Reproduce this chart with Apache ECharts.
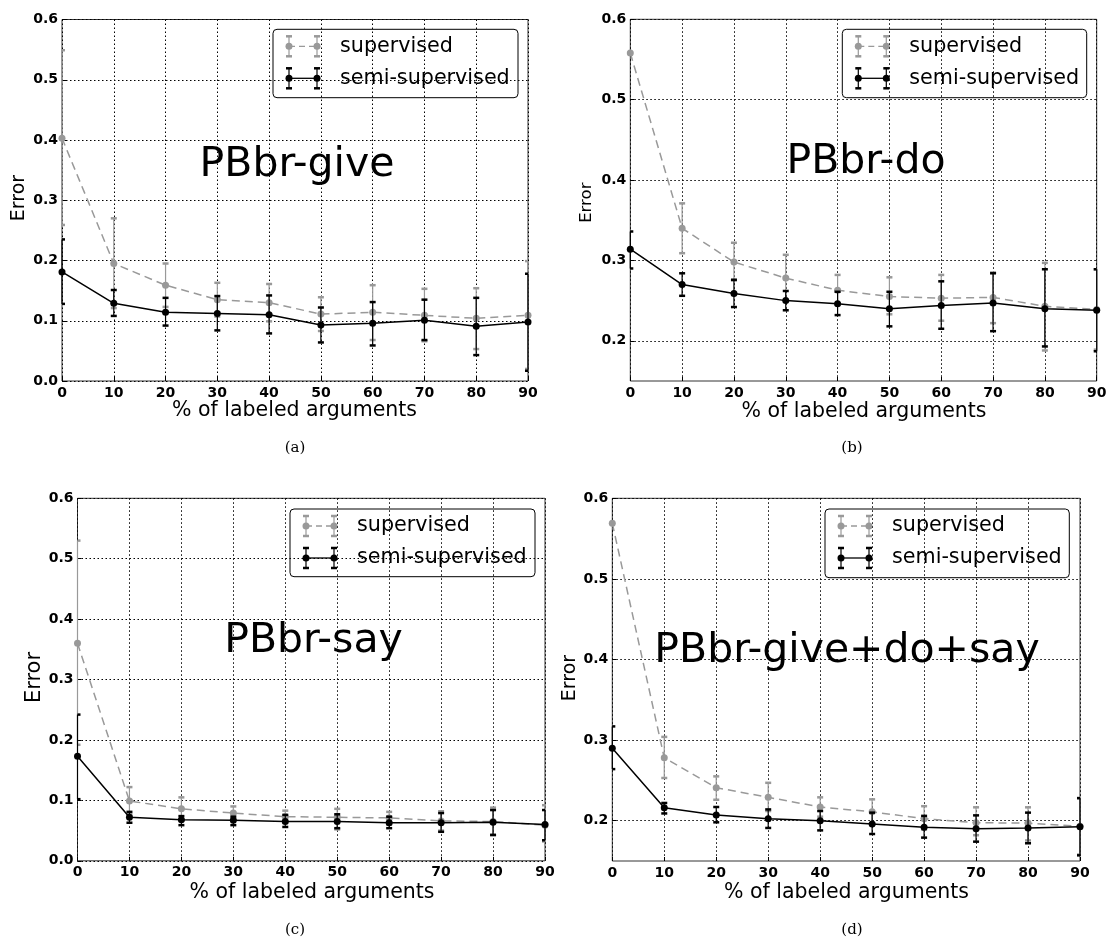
<!DOCTYPE html>
<html><head><meta charset="utf-8">
<script src="https://cdn.jsdelivr.net/npm/echarts@6/dist/echarts.min.js"></script>
<style>html,body{margin:0;padding:0;background:#fff}#c{width:1112px;height:939px}</style>
</head><body><div id="c"></div>
<script>
// ---------- data ----------
const xValues = [0, 10, 20, 30, 40, 50, 60, 70, 80, 90];
const seriesNames = ['supervised', 'semi-supervised'];
const panelTitles = ['PBbr-give', 'PBbr-do', 'PBbr-say', 'PBbr-give+do+say'];
const panelCaptions = ['(a)', '(b)', '(c)', '(d)'];
const xAxisTitle = '% of labeled arguments';
const yAxisTitle = 'Error';
const yTicksFull = [0, 0.1, 0.2, 0.3, 0.4, 0.5, 0.6];
const yTicksHigh = [0.2, 0.3, 0.4, 0.5, 0.6];

// (a) PBbr-give
const supA    = [0.403, 0.195, 0.159, 0.135, 0.130, 0.111, 0.114, 0.109, 0.104, 0.109];
const supALo  = [0.259, 0.121, 0.123, 0.107, 0.099, 0.083, 0.068, 0.066, 0.053, 0.020];
const supAHi  = [0.549, 0.270, 0.195, 0.163, 0.161, 0.139, 0.159, 0.153, 0.154, 0.199];
const semiA   = [0.181, 0.129, 0.114, 0.112, 0.110, 0.093, 0.096, 0.101, 0.091, 0.098];
const semiALo = [0.128, 0.108, 0.092, 0.084, 0.079, 0.064, 0.059, 0.068, 0.043, 0.017];
const semiAHi = [0.235, 0.151, 0.138, 0.141, 0.142, 0.122, 0.131, 0.135, 0.138, 0.178];

// (b) PBbr-do
const supB    = [0.558, 0.340, 0.298, 0.278, 0.263, 0.255, 0.253, 0.254, 0.243, 0.239];
const supBLo  = [null, 0.309, 0.275, 0.249, 0.245, 0.233, 0.225, 0.222, 0.188, 0.189];
const supBHi  = [null, 0.371, 0.322, 0.307, 0.282, 0.279, 0.282, 0.285, 0.297, 0.289];
const semiB   = [0.314, 0.270, 0.259, 0.250, 0.246, 0.240, 0.244, 0.247, 0.240, 0.238];
const semiBLo = [0.290, 0.256, 0.242, 0.238, 0.232, 0.218, 0.215, 0.212, 0.193, 0.187];
const semiBHi = [0.336, 0.284, 0.276, 0.262, 0.261, 0.261, 0.274, 0.284, 0.289, 0.289];

// (c) PBbr-say
const supC    = [0.360, 0.099, 0.086, 0.079, 0.073, 0.072, 0.071, 0.066, 0.065, 0.059];
const supCLo  = [0.192, 0.077, 0.067, 0.068, 0.063, 0.052, 0.060, 0.050, 0.042, 0.032];
const supCHi  = [0.530, 0.122, 0.105, 0.090, 0.083, 0.086, 0.081, 0.082, 0.088, 0.092];
const semiC   = [0.173, 0.072, 0.068, 0.067, 0.065, 0.065, 0.063, 0.063, 0.064, 0.060];
const semiCLo = [0.102, 0.063, 0.059, 0.059, 0.056, 0.054, 0.054, 0.048, 0.043, 0.034];
const semiCHi = [0.242, 0.081, 0.074, 0.073, 0.076, 0.077, 0.073, 0.079, 0.084, 0.084];

// (d) PBbr-give+do+say
const supD    = [0.569, 0.278, 0.241, 0.229, 0.217, 0.211, 0.2025, 0.1975, 0.197, 0.193];
const supDLo  = [null, 0.253, 0.226, 0.212, 0.205, 0.195, 0.189, 0.182, 0.1755, 0.158];
const supDHi  = [null, 0.304, 0.255, 0.247, 0.229, 0.2265, 0.218, 0.2166, 0.2166, 0.228];
const semiD   = [0.290, 0.216, 0.207, 0.2025, 0.200, 0.196, 0.192, 0.190, 0.191, 0.1925];
const semiDLo = [0.264, 0.209, 0.198, 0.191, 0.188, 0.1835, 0.179, 0.174, 0.172, 0.157];
const semiDHi = [0.317, 0.222, 0.217, 0.214, 0.212, 0.210, 0.206, 0.2066, 0.210, 0.228];

// ---------- layout / styles ----------
const GREY = '#999999';
const BLACK = '#000000';
const FONT = 'DejaVu Sans';

const panels = [
  { grid:{left:62, top:19.5, width:466, height:361.5}, yMin:0, yMax:0.6, ticks:yTicksFull,
    sup:[supA, supALo, supAHi], semi:[semiA, semiALo, semiAHi],
    titlePos:[297, 165], ylab:[19, 198, 19], xlab:[294.5, 411], cap:[295, 448], leg:[273, 29.3, 245, 68.4] },
  { grid:{left:630.3, top:19.3, width:466.4, height:361.7}, yMin:0.15, yMax:0.6, ticks:yTicksHigh,
    sup:[supB, supBLo, supBHi], semi:[semiB, semiBLo, semiBHi],
    titlePos:[866, 162.5], ylab:[586.7, 202.7, 16.5], xlab:[864, 412], cap:[852, 448], leg:[842.3, 29.3, 244.4, 68.4] },
  { grid:{left:77.5, top:498.3, width:467.5, height:362.5}, yMin:0, yMax:0.6, ticks:yTicksFull,
    sup:[supC, supCLo, supCHi], semi:[semiC, semiCLo, semiCHi],
    titlePos:[313.5, 641], ylab:[35, 677.5, 21], xlab:[312, 893], cap:[295, 930], leg:[290, 509, 245, 67.7] },
  { grid:{left:612.3, top:498.3, width:467.7, height:362.7}, yMin:0.15, yMax:0.6, ticks:yTicksHigh,
    sup:[supD, supDLo, supDHi], semi:[semiD, semiDLo, semiDHi],
    titlePos:[847, 651], ylab:[570, 678, 19], xlab:[846.5, 893], cap:[852, 930], leg:[825, 509, 244.3, 68.7] }
];

function errRender(color) {
  return function (params, api) {
    const lo = api.value(2), hi = api.value(3);
    if (lo == null || hi == null || isNaN(lo) || isNaN(hi)) return null;
    const x = api.value(0);
    const cs = params.coordSys;
    const top = api.coord([x, hi]), bot = api.coord([x, lo]);
    const y0 = cs.y, y1 = cs.y + cs.height, x0 = cs.x, x1 = cs.x + cs.width;
    const children = [];
    const yt = Math.max(top[1], y0), yb = Math.min(bot[1], y1);
    if (yb > yt) children.push({type:'line', shape:{x1:top[0], y1:yt, x2:top[0], y2:yb}, style:{stroke:color, lineWidth:1.2}});
    const hw = 3;
    [top[1], bot[1]].forEach(function (cy) {
      if (cy >= y0 - 0.5 && cy <= y1 + 0.5) {
        children.push({type:'line', shape:{x1:Math.max(top[0]-hw, x0), y1:cy, x2:Math.min(top[0]+hw, x1), y2:cy},
          style:{stroke:color, lineWidth:2.5}});
      }
    });
    return {type:'group', children:children};
  };
}

const grids = [], xAxes = [], yAxes = [], series = [], graphics = [];

panels.forEach(function (p, i) {
  grids.push(Object.assign({show:true, borderColor:'#333', borderWidth:1, backgroundColor:'#fff', containLabel:false}, p.grid));
  xAxes.push({type:'value', gridIndex:i, min:0, max:90, interval:10,
    axisLine:{show:false}, axisTick:{show:true, inside:true, length:4, lineStyle:{color:'#000'}},
    axisLabel:{color:'#000', fontFamily:FONT, fontSize:14, fontWeight:'bold', margin:5},
    splitLine:{show:true, lineStyle:{color:'#000', width:1, type:[1.5, 2.5]}}});
  const yAx = {type:'value', gridIndex:i, min:p.yMin, max:p.yMax,
    axisLine:{show:false}, axisTick:{show:true, inside:true, length:4, lineStyle:{color:'#000'}},
    axisLabel:{color:'#000', fontFamily:FONT, fontSize:14, fontWeight:'bold', margin:4,
      formatter:function (v) { return (+v).toFixed(1); }},
    splitLine:{show:true, lineStyle:{color:'#000', width:1, type:[1.5, 2.5]}}};
  if (p.yMin === 0) { yAx.interval = 0.1; }
  else { yAx.axisLabel.customValues = p.ticks; yAx.axisTick.customValues = p.ticks; }
  yAxes.push(yAx);

  const defs = [[p.sup, GREY, 'dashed'], [p.semi, BLACK, 'solid']];
  defs.forEach(function (d, k) {
    const m = d[0][0], lo = d[0][1], hi = d[0][2], col = d[1];
    series.push({type:'custom', name:seriesNames[k], xAxisIndex:i, yAxisIndex:i, z:3+k*2,
      renderItem:errRender(col), silent:true,
      encode:{x:0, y:1},
      data:xValues.map(function (x, j) { return [x, m[j], lo[j] == null ? '-' : lo[j], hi[j] == null ? '-' : hi[j]]; })});
    series.push({type:'line', name:seriesNames[k], xAxisIndex:i, yAxisIndex:i, z:4+k*2,
      symbol:'circle', symbolSize:7, showSymbol:true, animation:false, silent:true,
      itemStyle:{color:col, borderWidth:0},
      lineStyle:{color:col, width:1.5, type: d[2] === 'dashed' ? [8, 5] : 'solid'},
      data:xValues.map(function (x, j) { return [x, m[j]]; })});
  });

  // panel title
  graphics.push({type:'text', x:p.titlePos[0], y:p.titlePos[1], z:10,
    style:{text:panelTitles[i], fontFamily:FONT, fontSize:41, fill:'#000', align:'center', verticalAlign:'middle', textAlign:'center', textVerticalAlign:'middle'}});
  // axis titles
  graphics.push({type:'text', x:p.ylab[0], y:p.ylab[1], rotation:Math.PI/2, z:10,
    style:{text:yAxisTitle, fontFamily:FONT, fontSize:p.ylab[2], fill:'#000', align:'center', verticalAlign:'middle', textAlign:'center', textVerticalAlign:'middle'}});
  graphics.push({type:'text', x:p.xlab[0], y:p.xlab[1], z:10,
    style:{text:xAxisTitle, fontFamily:FONT, fontSize:20.5, fill:'#000', align:'center', verticalAlign:'middle', textAlign:'center', textVerticalAlign:'middle'}});
  graphics.push({type:'text', x:p.cap[0], y:p.cap[1], z:10,
    style:{text:panelCaptions[i], fontFamily:'DejaVu Serif', fontSize:15, fill:'#000', align:'center', verticalAlign:'middle', textAlign:'center', textVerticalAlign:'middle'}});

  // legend box
  const L = p.leg;
  const kids = [{type:'rect', shape:{x:0, y:0, width:L[2], height:L[3], r:4}, style:{fill:'#fff', stroke:'#000', lineWidth:1}}];
  [[GREY, 17, [6, 4], seriesNames[0]], [BLACK, 49, null, seriesNames[1]]].forEach(function (r) {
    const col = r[0], cy = r[1];
    kids.push({type:'line', shape:{x1:16, y1:cy, x2:44, y2:cy}, style:{stroke:col, lineWidth:1.3, lineDash:r[2]}});
    [16, 44].forEach(function (cx) {
      kids.push({type:'line', shape:{x1:cx, y1:cy-10, x2:cx, y2:cy+10}, style:{stroke:col, lineWidth:1.2}});
      kids.push({type:'line', shape:{x1:cx-3, y1:cy-10, x2:cx+3, y2:cy-10}, style:{stroke:col, lineWidth:2.5}});
      kids.push({type:'line', shape:{x1:cx-3, y1:cy+10, x2:cx+3, y2:cy+10}, style:{stroke:col, lineWidth:2.5}});
      kids.push({type:'circle', shape:{cx:cx, cy:cy, r:3.5}, style:{fill:col}});
    });
    kids.push({type:'text', x:67, y:cy, style:{text:r[3], fontFamily:FONT, fontSize:20.7, fill:'#000', align:'left', verticalAlign:'middle', textAlign:'left', textVerticalAlign:'middle'}});
  });
  graphics.push({type:'group', x:L[0], y:L[1], z:20, children:kids});
});

const chart = echarts.init(document.getElementById('c'), null, {renderer:'canvas'});
chart.setOption({
  backgroundColor:'#fff',
  animation:false,
  grid:grids, xAxis:xAxes, yAxis:yAxes, series:series, graphic:graphics
});
</script>
</body></html>
